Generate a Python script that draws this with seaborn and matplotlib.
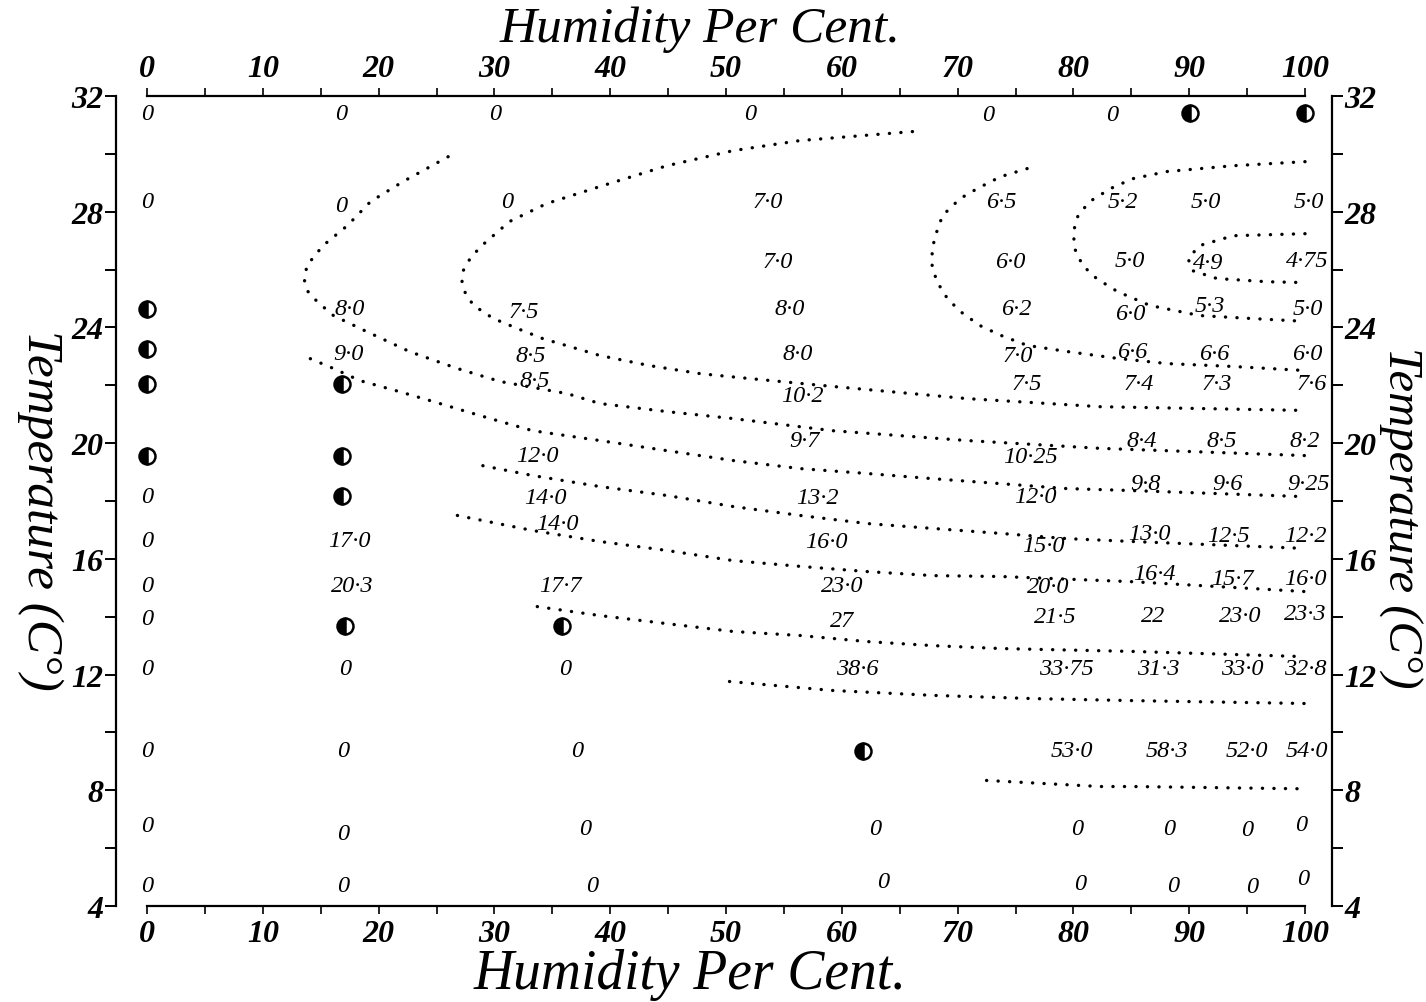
import matplotlib
matplotlib.use("Agg")
import matplotlib.pyplot as plt
import seaborn as sns
from matplotlib.ticker import MultipleLocator

# written readings: humidity (%), temperature (C), value as printed
read_hum = [0, 16.8, 30.1, 52.1, 72.6, 83.3,
            0, 16.8, 31.1, 53.6, 73.8, 84.3, 91.4, 100.3,
            54.5, 74.5, 84.9, 91.6, 100.2,
            17.5, 32.5, 55.5, 75.1, 84.9, 91.8, 100.2,
            17.4, 33.1, 56.2, 75.2, 85.1, 92.2, 100.2,
            33.5, 56.6, 76.0, 85.6, 92.4, 100.6,
            33.7, 56.8, 76.3, 85.9, 92.8, 100.0,
            0, 34.4, 57.9, 76.7, 86.2, 93.3, 100.3,
            35.4, 0, 17.5, 58.7, 77.4, 86.6, 93.4, 100.0,
            0, 17.7, 35.7, 60.0, 77.8, 87.0, 93.7, 100.0,
            0, 60.0, 78.4, 86.9, 94.4, 100.0,
            0, 17.1, 36.1, 61.3, 79.4, 87.3, 94.6, 100.0,
            0, 16.9, 37.1, 79.9, 88.1, 95.0, 100.2,
            0, 16.9, 37.8, 62.9, 80.3, 88.3, 95.0, 99.7,
            0, 16.9, 38.4, 63.6, 80.6, 88.6, 95.4, 99.8]
read_temp = [31.4, 31.4, 31.4, 31.4, 31.35, 31.35,
             28.35, 28.2, 28.35, 28.35, 28.35, 28.35, 28.35, 28.35,
             26.28, 26.28, 26.3, 26.25, 26.3,
             24.65, 24.55, 24.65, 24.65, 24.48, 24.76, 24.65,
             23.1, 23.03, 23.1, 23.03, 23.17, 23.1, 23.1,
             22.16, 21.64, 22.06, 22.06, 22.06, 22.06,
             19.57, 20.09, 19.54, 20.09, 20.09, 20.09,
             18.16, 18.12, 18.12, 18.16, 18.6, 18.6, 18.6,
             17.22, 16.63, 16.63, 16.6, 16.46, 16.88, 16.8, 16.8,
             15.08, 15.08, 15.08, 15.08, 15.04, 15.49, 15.32, 15.32,
             13.94, 13.87, 14.0, 14.04, 14.04, 14.11,
             12.21, 12.21, 12.21, 12.21, 12.21, 12.21, 12.21, 12.21,
             9.37, 9.37, 9.37, 9.37, 9.37, 9.37, 9.37,
             6.78, 6.51, 6.68, 6.68, 6.68, 6.68, 6.65, 6.82,
             4.71, 4.71, 4.71, 4.85, 4.78, 4.71, 4.68, 4.95]
read_text = ["0", "0", "0", "0", "0", "0",
             "0", "0", "0", "7·0", "6·5", "5·2", "5·0", "5·0",
             "7·0", "6·0", "5·0", "4·9", "4·75",
             "8·0", "7·5", "8·0", "6·2", "6·0", "5·3", "5·0",
             "9·0", "8·5", "8·0", "7·0", "6·6", "6·6", "6·0",
             "8·5", "10·2", "7·5", "7·4", "7·3", "7·6",
             "12·0", "9·7", "10·25", "8·4", "8·5", "8·2",
             "0", "14·0", "13·2", "12·0", "9·8", "9·6", "9·25",
             "14·0", "0", "17·0", "16·0", "15·0", "13·0", "12·5", "12·2",
             "0", "20·3", "17·7", "23·0", "20·0", "16·4", "15·7", "16·0",
             "0", "27", "21·5", "22", "23·0", "23·3",
             "0", "0", "0", "38·6", "33·75", "31·3", "33·0", "32·8",
             "0", "0", "0", "53·0", "58·3", "52·0", "54·0",
             "0", "0", "0", "0", "0", "0", "0", "0",
             "0", "0", "0", "0", "0", "0", "0", "0"]

# half-filled circle readings
circ_hum = [90.1, 100.0, 0, 0, 0, 0, 16.8, 16.8, 16.8, 17.1, 35.8, 61.8]
circ_temp = [31.4, 31.4, 24.65, 23.27, 22.06, 19.57, 22.06, 19.57, 18.16, 13.69, 13.69, 9.37]

# dotted iso-lines
c1_hum = [26.0, 22.1, 19.3, 17.3, 15.2, 13.8, 13.6, 13.9, 14.7, 16.1, 19.0, 22.7, 26.8,
          30.5, 36.3, 39.1, 44.9, 50.6, 59.2, 70.8, 82.3, 100]
c1_temp = [29.9, 29.04, 28.35, 27.52, 26.83, 26.14, 25.62, 25.24, 24.89, 24.41, 23.85, 23.16,
           22.58, 22.13, 21.71, 21.37, 21.09, 20.85, 20.43, 20.09, 19.82, 19.57]
c2_hum = [66.1, 56.4, 50.6, 44.9, 39.1, 34.5, 31.3, 28.8, 27.9, 27.3, 27.2, 27.5, 28.2,
          29.9, 32.0, 34.2, 36.5, 39.1, 43.4, 47.8, 52.1, 59.2, 70.8, 82.3, 100]
c2_temp = [30.77, 30.46, 30.11, 29.59, 28.87, 28.28, 27.66, 26.79, 26.38, 25.96, 25.58,
           25.17, 24.76, 24.31, 23.96, 23.61, 23.34, 23.03, 22.68, 22.40, 22.23, 21.96,
           21.54, 21.26, 21.13]
c3_hum = [14.1, 16.1, 18.4, 21.8, 24.7, 27.6, 30.5, 33.3, 39.1, 44.9, 50.6, 56.4, 62.2,
          67.9, 73.7, 79.4, 85.1, 100]
c3_temp = [22.92, 22.58, 22.16, 21.78, 21.44, 21.09, 20.75, 20.43, 20.09, 19.74, 19.40,
           19.12, 18.95, 18.77, 18.60, 18.43, 18.36, 18.15]
c4_hum = [29.0, 33.3, 39.1, 44.9, 50.6, 56.4, 62.2, 67.9, 73.7, 79.4, 85.1, 100]
c4_temp = [19.22, 18.88, 18.50, 18.19, 17.81, 17.50, 17.22, 17.05, 16.88, 16.70, 16.60, 16.36]
c5_hum = [26.8, 33.3, 39.1, 44.9, 50.6, 56.4, 62.2, 67.9, 73.7, 85.1, 100]
c5_temp = [17.50, 16.98, 16.60, 16.29, 15.94, 15.74, 15.56, 15.42, 15.39, 15.21, 14.87]
c6_hum = [33.7, 39.1, 44.9, 50.6, 56.4, 62.2, 67.9, 73.7, 85.1, 100]
c6_temp = [14.35, 14.04, 13.76, 13.49, 13.35, 13.14, 13.0, 12.90, 12.80, 12.62]
c7_hum = [50.3, 59.2, 67.9, 76.5, 85.1, 100]
c7_temp = [11.76, 11.45, 11.28, 11.17, 11.10, 11.0]
c8_hum = [72.5, 82.3, 85.1, 100]
c8_temp = [8.34, 8.13, 8.13, 8.05]
c9_hum = [76.0, 73.7, 71.7, 70.2, 68.7, 68.2, 67.8, 67.8, 68.2, 69.1, 70.2, 71.9, 73.7,
          76.0, 79.4, 83.8, 88.1, 93.8, 100]
c9_temp = [29.49, 29.21, 28.80, 28.45, 27.87, 27.31, 26.73, 26.14, 25.59, 25.01, 24.56,
           24.07, 23.73, 23.38, 23.17, 22.93, 22.75, 22.65, 22.51]
c10_hum = [100, 93.8, 88.1, 85.1, 83.2, 81.4, 80.4, 80.0, 80.1, 80.8, 82.0, 83.8, 86.6,
           90.9, 95.3, 100]
c10_temp = [29.73, 29.59, 29.39, 29.14, 28.80, 28.35, 27.87, 27.31, 26.73, 26.14, 25.69,
            25.24, 24.76, 24.41, 24.31, 24.21]
c11_hum = [100, 93.8, 90.9, 89.9, 90.3, 92.4, 96.7, 100]
c11_temp = [27.24, 27.17, 26.83, 26.38, 25.96, 25.69, 25.58, 25.55]

curves = [(c1_hum, c1_temp), (c2_hum, c2_temp), (c3_hum, c3_temp), (c4_hum, c4_temp),
          (c5_hum, c5_temp), (c6_hum, c6_temp), (c7_hum, c7_temp), (c8_hum, c8_temp),
          (c9_hum, c9_temp), (c10_hum, c10_temp), (c11_hum, c11_temp)]

hum_ticks = list(range(0, 101, 10))
temp_ticks = list(range(4, 33, 4))

sns.set_theme(style="ticks")
plt.rcParams["font.family"] = ["Liberation Serif", "DejaVu Serif"]
plt.rcParams["font.style"] = "italic"
plt.rcParams["axes.linewidth"] = 1.6
plt.rcParams["text.color"] = "black"

fig = plt.figure(figsize=(14.26, 10.03), dpi=100)
fig.patch.set_facecolor("white")
ax = fig.add_axes([116 / 1426, 96 / 1003, 1216 / 1426, 810 / 1003])

for hx, ty in curves:
    sns.lineplot(x=hx, y=ty, sort=False, estimator=None, color="black", lw=2.4,
                 linestyle=(0, (0.05, 3.4)), dash_capstyle="round", ax=ax)

ax.plot(circ_hum, circ_temp, ls="none", marker="o", ms=11.5, fillstyle="left",
        mfc="black", markerfacecoloralt="white", mec="black", mew=1.8)

for hx, ty, s in zip(read_hum, read_temp, read_text):
    ax.text(hx, ty, s, ha="center", va="center", fontsize=17.5, fontstyle="italic",
            color="black")

ax.set_xlim(-2.68, 102.33)
ax.set_ylim(4, 32)
ax.set_xticks(hum_ticks)
ax.set_xticklabels([str(v) for v in hum_ticks])
ax.set_yticks(temp_ticks)
ax.set_yticklabels([str(v) for v in temp_ticks])
ax.xaxis.set_minor_locator(MultipleLocator(5))
ax.yaxis.set_minor_locator(MultipleLocator(2))
ax.tick_params(axis="x", which="both", top=True, bottom=True, labeltop=True,
               labelbottom=True, direction="out", length=5.5, width=1.2,
               labelsize=23, pad=4, colors="black")
ax.tick_params(axis="y", which="both", left=True, right=True, labelleft=True,
               labelright=True, direction="out", length=8, width=1.4,
               labelsize=23, pad=1, colors="black")
for tk in ax.xaxis.get_major_ticks() + ax.yaxis.get_major_ticks():
    tk.label1.set_fontweight("bold")
    tk.label2.set_fontweight("bold")

ax.spines["top"].set_bounds(0, 100)
ax.spines["bottom"].set_bounds(0, 100)
for sp in ax.spines.values():
    sp.set_color("black")
    sp.set_visible(True)
ax.set_xlabel("")
ax.set_ylabel("")

fig.text(700 / 1426, 1 - 30 / 1003, "Humidity Per Cent.", ha="center", va="center",
         fontsize=37, fontstyle="italic", color="black")
fig.text(690 / 1426, 1 - 975 / 1003, "Humidity Per Cent.", ha="center", va="center",
         fontsize=40, fontstyle="italic", color="black")
fig.text(40 / 1426, 1 - 510 / 1003, "Temperature (C°)", ha="center", va="center",
         rotation=-90, fontsize=37, fontstyle="italic", color="black")
fig.text(1400 / 1426, 1 - 518 / 1003, "Temperature (C°)", ha="center", va="center",
         rotation=-90, fontsize=35, fontstyle="italic", color="black")

fig.savefig("out.png", dpi=100, facecolor="white")
